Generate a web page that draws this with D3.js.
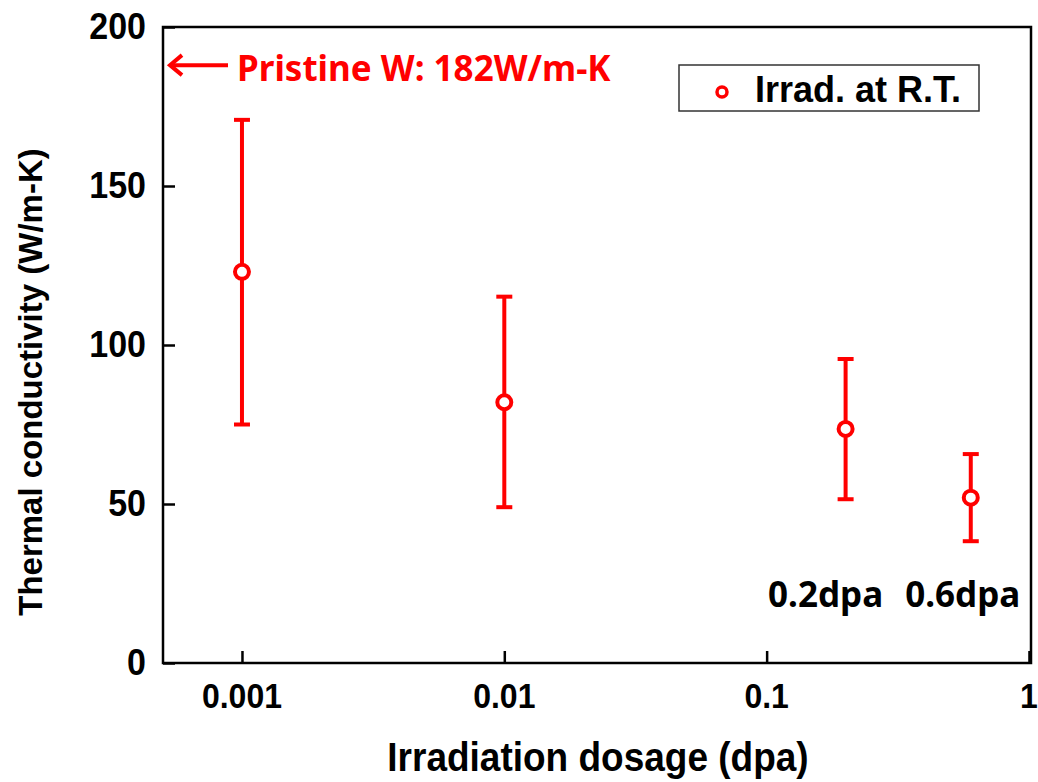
<!DOCTYPE html>
<html>
<head>
<meta charset="utf-8">
<script src="https://cdn.jsdelivr.net/npm/d3@7"></script>
<style>
  body { margin: 0; background: #fff; }
  svg { display: block; }
</style>
</head>
<body>
<svg id="chart" width="1038" height="782"></svg>
<script>
// dose (dpa) and measured thermal conductivity (W/m-K)
const doses = [0.001, 0.01, 0.2, 0.6];
const kMean = [123, 82, 73.6, 52];
const kLow = [75, 49, 51.5, 38.3];
const kHigh = [170.8, 115.2, 95.6, 65.7];

const xTicks = [0.001, 0.01, 0.1, 1];
const xTickLabels = ["0.001", "0.01", "0.1", "1"];
const yTicks = [0, 50, 100, 150, 200];

const doseLabels = ["0.2dpa", "0.6dpa"];
const doseLabelAt = [0.2, 0.6];
const pristineValue = 188; // where the arrow sits on the y axis

const RED = "#ff0000";
const margin = { top: 27, right: 7, bottom: 119, left: 163 };
const W = 1038, H = 782;

const svg = d3.select("#chart");

const x = d3.scaleLog()
    .domain([0.0005, 1.018])
    .range([margin.left, W - margin.right]);
const y = d3.scaleLinear()
    .domain([0, 200])
    .range([H - margin.bottom, margin.top]);

const g = svg.append("g");

// y ticks (inside) + labels
const yAxis = d3.axisRight(y).tickValues(yTicks).tickSize(12).tickFormat("");
g.append("g")
    .attr("transform", `translate(${margin.left},0)`)
    .call(yAxis)
    .call(s => s.select(".domain").remove())
    .call(s => s.selectAll("line").attr("stroke", "#000").attr("stroke-width", 2.5));

g.selectAll(".ylab")
    .data(yTicks)
    .enter()
    .append("text")
    .attr("class", "ylab")
    .attr("transform", d => `translate(146,${y(d) + 12}) scale(1,1.1)`)
    .attr("text-anchor", "end")
    .attr("font-family", "Liberation Sans, Arial, sans-serif")
    .attr("font-weight", "bold")
    .attr("font-size", "34px")
    .attr("fill", "#000")
    .text(d => d);

// x ticks (inside) + labels
const xAxis = d3.axisTop(x).tickValues(xTicks).tickSize(12).tickFormat("");
g.append("g")
    .attr("transform", `translate(0,${y(0)})`)
    .call(xAxis)
    .call(s => s.select(".domain").remove())
    .call(s => s.selectAll("line").attr("stroke", "#000").attr("stroke-width", 2.5));

g.selectAll(".xlab")
    .data(xTicks)
    .enter()
    .append("text")
    .attr("class", "xlab")
    .attr("transform", d => `translate(${x(d)},708) scale(1,1.1)`)
    .attr("text-anchor", "middle")
    .attr("font-family", "Liberation Sans, Arial, sans-serif")
    .attr("font-weight", "bold")
    .attr("font-size", "32px")
    .attr("fill", "#000")
    .text((d, i) => xTickLabels[i]);

// frame
g.append("rect")
    .attr("x", margin.left)
    .attr("y", margin.top)
    .attr("width", x.range()[1] - margin.left)
    .attr("height", y(0) - margin.top)
    .attr("fill", "none")
    .attr("stroke", "#000")
    .attr("stroke-width", 2.5);

// axis titles
svg.append("text")
    .attr("transform", "translate(598,771) scale(1,1.08)")
    .attr("text-anchor", "middle")
    .attr("font-family", "Liberation Sans, Arial, sans-serif")
    .attr("font-weight", "bold")
    .attr("font-size", "37px")
    .attr("fill", "#000")
    .text("Irradiation dosage (dpa)");

svg.append("text")
    .attr("transform", "translate(42,382) rotate(-90)")
    .attr("text-anchor", "middle")
    .attr("font-family", "Liberation Sans, Arial, sans-serif")
    .attr("font-weight", "bold")
    .attr("font-size", "33px")
    .attr("fill", "#000")
    .text("Thermal conductivity (W/m-K)");

// error bars
const capW = 8;
const bars = g.selectAll(".err")
    .data(doses)
    .enter()
    .append("g")
    .attr("class", "err")
    .attr("stroke", RED)
    .attr("stroke-width", 4);

bars.append("line")
    .attr("x1", d => x(d)).attr("x2", d => x(d))
    .attr("y1", (d, i) => y(kLow[i])).attr("y2", (d, i) => y(kHigh[i]));
bars.append("line")
    .attr("x1", d => x(d) - capW).attr("x2", d => x(d) + capW)
    .attr("y1", (d, i) => y(kLow[i])).attr("y2", (d, i) => y(kLow[i]));
bars.append("line")
    .attr("x1", d => x(d) - capW).attr("x2", d => x(d) + capW)
    .attr("y1", (d, i) => y(kHigh[i])).attr("y2", (d, i) => y(kHigh[i]));

// open circle markers
g.selectAll(".pt")
    .data(doses)
    .enter()
    .append("circle")
    .attr("class", "pt")
    .attr("cx", d => x(d))
    .attr("cy", (d, i) => y(kMean[i]))
    .attr("r", 7)
    .attr("fill", "#fff")
    .attr("stroke", RED)
    .attr("stroke-width", 4);

// dose annotations, sitting a little left of their points
const labelShift = [-20, -8];
g.selectAll(".dlab")
    .data(doseLabels)
    .enter()
    .append("text")
    .attr("class", "dlab")
    .attr("x", (d, i) => x(doseLabelAt[i]) + labelShift[i])
    .attr("y", 607)
    .attr("text-anchor", "middle")
    .attr("font-family", "Noto Sans, sans-serif")
    .attr("font-weight", "bold")
    .attr("font-size", "35px")
    .attr("fill", "#000")
    .text(d => d);

// pristine arrow
const ay = y(pristineValue);
svg.append("line")
    .attr("x1", 172).attr("x2", 228)
    .attr("y1", ay).attr("y2", ay)
    .attr("stroke", RED)
    .attr("stroke-width", 4);
svg.append("path")
    .attr("d", `M182,${ay - 10} L170,${ay} L182,${ay + 10}`)
    .attr("fill", "none")
    .attr("stroke", RED)
    .attr("stroke-width", 4);
svg.append("text")
    .attr("x", 237)
    .attr("y", ay + 16)
    .attr("font-family", "Noto Sans, sans-serif")
    .attr("font-weight", "bold")
    .attr("font-size", "35px")
    .attr("fill", RED)
    .text("Pristine W: 182W/m-K");

// legend
const leg = svg.append("g");
leg.append("rect")
    .attr("x", 679).attr("y", 65)
    .attr("width", 300).attr("height", 46)
    .attr("fill", "#fff")
    .attr("stroke", "#333")
    .attr("stroke-width", 1.5);
leg.append("circle")
    .attr("cx", 722).attr("cy", 92)
    .attr("r", 5)
    .attr("fill", "#fff")
    .attr("stroke", RED)
    .attr("stroke-width", 3.5);
leg.append("text")
    .attr("x", 755).attr("y", 102)
    .attr("font-family", "Liberation Sans, Arial, sans-serif")
    .attr("font-weight", "bold")
    .attr("font-size", "36px")
    .attr("fill", "#000")
    .text("Irrad. at R.T.");
</script>
</body>
</html>
